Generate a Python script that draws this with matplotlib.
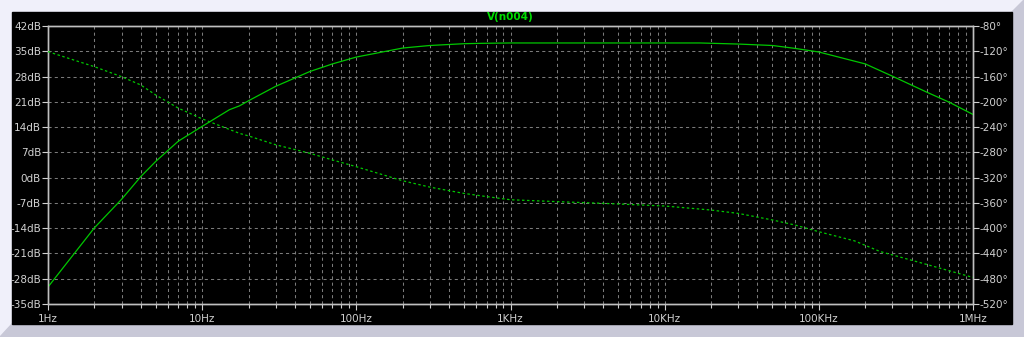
import numpy as np
import matplotlib.pyplot as plt
from matplotlib.patches import Polygon, Rectangle
from matplotlib.ticker import FixedLocator, NullFormatter

# Bode data
freq_mag = [1, 2, 3, 4, 5, 7, 10, 15, 17.5, 20, 30, 50, 70, 100, 200, 300, 500, 650,
            1e3, 2e3, 5e3, 1e4, 1.7e4, 3e4, 5e4, 7e4, 1e5, 2e5, 3e5, 5e5, 7e5, 1e6]
mag_db = [-30.3, -13.9, -6.0, 0.3, 4.5, 10.1, 14.2, 18.8, 19.9, 21.3, 25.3, 29.4, 31.5,
          33.4, 35.9, 36.6, 37.1, 37.2, 37.3, 37.3, 37.3, 37.3, 37.3, 37.0, 36.6, 35.8,
          34.8, 31.5, 28.1, 23.7, 20.9, 17.5]

freq_ph = [1, 2, 3, 4, 5, 7, 10, 17.5, 20, 30, 50, 70, 100, 200, 300, 500, 700,
           1e3, 2e3, 4e3, 1e4, 2e4, 3e4, 5e4, 7e4, 1e5, 1.7e5, 2.5e5, 4.7e5, 1e6]
phase_deg = [-120.6, -144.4, -160.2, -173.4, -189.2, -210, -227, -250, -254, -268,
             -281.5, -292, -302.7, -325, -335, -345, -350, -355, -358, -360.7, -364.9,
             -371.3, -376.6, -387, -395, -405.6, -420, -437, -455.5, -478]

db_ticks = [42, 35, 28, 21, 14, 7, 0, -7, -14, -21, -28, -35]
deg_ticks = [-80, -120, -160, -200, -240, -280, -320, -360, -400, -440, -480, -520]
freq_ticks = [1, 10, 100, 1e3, 1e4, 1e5, 1e6]
freq_labels = ["1Hz", "10Hz", "100Hz", "1KHz", "10KHz", "100KHz", "1MHz"]

W, H = 1024, 337
fig = plt.figure(figsize=(W / 100, H / 100), dpi=100)
fig.patch.set_facecolor("#f0f0fa")

# bevelled frame around the black panel
fig.patches.append(Polygon([(1012 / W, 1 - 12 / H), (1024 / W, 1 - 0 / H), (1024 / W, 0),
                            (1012 / W, 1 - 324 / H)], closed=True,
                           transform=fig.transFigure, color="#c8c8d7", zorder=-10))
fig.patches.append(Polygon([(12 / W, 1 - 324 / H), (1012 / W, 1 - 324 / H), (1024 / W, 0),
                            (0, 0)], closed=True,
                           transform=fig.transFigure, color="#c8c8d7", zorder=-10))
fig.patches.append(Rectangle((12 / W, 1 - 324 / H), 1000 / W, 312 / H,
                             transform=fig.transFigure, color="black", zorder=-9))

left, right, top, bottom = 48 / W, 973 / W, 1 - 26 / H, 1 - 304 / H
ax = fig.add_axes([left, bottom, right - left, top - bottom])
ax.set_facecolor("black")
ax.set_xscale("log")
ax.set_xlim(1, 1e6)
ax.set_ylim(-35, 42)

grid_col = "#7a7a7a"
text_col = "#d0d0d0"
green = "#00c800"

minor = [m * 10 ** e for e in range(6) for m in range(2, 10)]
ax.xaxis.set_major_locator(FixedLocator(freq_ticks))
ax.xaxis.set_minor_locator(FixedLocator(minor))
ax.xaxis.set_minor_formatter(NullFormatter())
ax.set_xticklabels(freq_labels)
ax.set_yticks(db_ticks)
ax.set_yticklabels([f"{v}dB" for v in db_ticks])

for f in freq_ticks[1:-1] + minor:
    ax.axvline(f, color=grid_col, lw=0.75, ls=(0, (3, 3)), zorder=1)
for v in db_ticks[1:-1]:
    ax.axhline(v, color=grid_col, lw=0.75, ls=(0, (3, 3)), zorder=1)

ax.plot(freq_mag, mag_db, color=green, lw=0.9, zorder=3)

ax2 = ax.twinx()
ax2.set_ylim(-520, -80)
ax2.set_yticks(deg_ticks)
ax2.set_yticklabels([f"{v}\u00b0" for v in deg_ticks])
ax2.plot(freq_ph, phase_deg, color=green, lw=0.9, ls=(0, (2, 2)), zorder=3)

for a in (ax, ax2):
    for s in a.spines.values():
        s.set_color("#c0c0c0")
        s.set_linewidth(1.0)
    a.tick_params(colors=text_col, labelsize=7.5, length=4, width=0.8, pad=1)
    a.tick_params(which="minor", colors=text_col, length=3, width=0.8)
ax.tick_params(axis="x", pad=3)

fig.text((left + right) / 2, 1 - 17 / H, "V(n004)", color="#00dc00",
         ha="center", va="center", fontsize=7.5, fontweight="bold")

fig.savefig("out.png", dpi=100, facecolor=fig.get_facecolor())
